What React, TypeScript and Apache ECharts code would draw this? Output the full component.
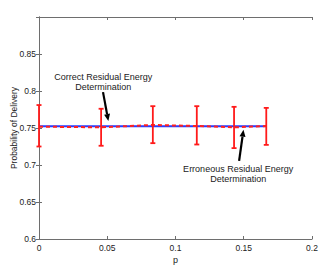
import React, { useEffect, useRef } from "react";
import * as echarts from "echarts";

const pValues = [0, 0.0455, 0.0834, 0.1156, 0.1429, 0.1665];
const meanErroneous = [0.7518, 0.7509, 0.7541, 0.7527, 0.7509, 0.7527];
const meanCorrect = [0.7523, 0.7523, 0.7523, 0.7523, 0.7523, 0.7523];
const errLow = [0.725, 0.726, 0.7295, 0.7277, 0.7228, 0.7272];
const errHigh = [0.781, 0.776, 0.7795, 0.7795, 0.7786, 0.7772];
const yTicks = [0.6, 0.65, 0.7, 0.75, 0.8, 0.85, 0.9];
const xTicks = [0, 0.05, 0.1, 0.15, 0.2];

const FONT = "'Liberation Sans', Arial, Helvetica, sans-serif";

export default function App() {
  const ref = useRef<HTMLDivElement>(null);
  useEffect(() => {
    document.body.style.margin = "0";
    const chart = echarts.init(ref.current!, null, { renderer: "svg" });
    const axisColor = "#6e6e6e";
    const common = {
      axisLine: { show: true, lineStyle: { color: axisColor, width: 1 } },
      axisTick: { show: true, inside: true, length: 3, lineStyle: { color: axisColor } },
      splitLine: { show: false },
    };
    chart.setOption({
      animation: false,
      grid: { left: 39, top: 17, right: 8, bottom: 26, containLabel: false, outerBoundsMode: "none" },
      xAxis: [
        {
          type: "value",
          min: 0,
          max: 0.2,
          interval: 0.05,
          position: "bottom",
          name: "p",
          nameLocation: "middle",
          nameGap: 16,
          nameMoveOverlap: false,
          nameTextStyle: { fontFamily: FONT, fontSize: 9, color: "#222" },
          axisLabel: {
            fontFamily: FONT,
            fontSize: 8.5,
            color: "#222",
            margin: 4,
            formatter: (v: number) => (xTicks.includes(Math.round(v * 100) / 100) ? String(Math.round(v * 100) / 100) : ""),
          },
          ...common,
        },
        {
          type: "value",
          min: 0,
          max: 0.2,
          interval: 0.05,
          position: "top",
          axisLabel: { show: false },
          ...common,
        },
      ],
      yAxis: [
        {
          type: "value",
          min: 0.6,
          max: 0.9,
          interval: 0.05,
          position: "left",
          name: "Probability of Delivery",
          nameLocation: "middle",
          nameGap: 21,
          nameMoveOverlap: false,
          nameTextStyle: { fontFamily: FONT, fontSize: 8.5, color: "#222" },
          axisLabel: {
            fontFamily: FONT,
            fontSize: 8.5,
            color: "#222",
            margin: 3,
            showMaxLabel: false,
            formatter: (v: number) => {
              const r = Math.round(v * 100) / 100;
              return yTicks.includes(r) ? String(r) : "";
            },
          },
          ...common,
        },
        {
          type: "value",
          min: 0.6,
          max: 0.9,
          interval: 0.05,
          position: "right",
          axisLabel: { show: false },
          ...common,
        },
      ],
      series: [
        {
          type: "line",
          data: pValues.map((p, i) => [p, meanCorrect[i]]),
          showSymbol: false,
          symbol: "none",
          lineStyle: { color: "#2a3cff", width: 2 },
          z: 2,
        },
        {
          type: "line",
          data: pValues.map((p, i) => [p, meanErroneous[i]]),
          showSymbol: false,
          symbol: "none",
          lineStyle: { color: "#ff2020", width: 2, type: [4, 3] },
          z: 3,
        },
        {
          type: "custom",
          z: 4,
          data: pValues.map((p, i) => [p, errLow[i], errHigh[i]]),
          renderItem: (params: any, api: any) => {
            const x = api.value(0);
            const lo = api.coord([x, api.value(1)]);
            const hi = api.coord([x, api.value(2)]);
            const cap = 2.5;
            const style = { stroke: "#ff1a1a", lineWidth: 1.8 };
            return {
              type: "group",
              children: [
                { type: "line", shape: { x1: lo[0], y1: lo[1], x2: hi[0], y2: hi[1] }, style },
                { type: "line", shape: { x1: lo[0] - cap, y1: lo[1], x2: lo[0] + cap, y2: lo[1] }, style },
                { type: "line", shape: { x1: hi[0] - cap, y1: hi[1], x2: hi[0] + cap, y2: hi[1] }, style },
              ],
            };
          },
        },
      ],
    });

    const toPx = (x: number, y: number) => chart.convertToPixel({ xAxisIndex: 0, yAxisIndex: 0 }, [x, y]) as number[];
    const arrow = (from: number[], to: number[]) => {
      const a = toPx(from[0], from[1]);
      const b = toPx(to[0], to[1]);
      const dx = b[0] - a[0];
      const dy = b[1] - a[1];
      const len = Math.sqrt(dx * dx + dy * dy);
      const ux = dx / len;
      const uy = dy / len;
      const hl = 7;
      const hw = 3;
      const base = [b[0] - ux * hl, b[1] - uy * hl];
      return [
        {
          type: "line",
          shape: { x1: a[0], y1: a[1], x2: base[0], y2: base[1] },
          style: { stroke: "#000", lineWidth: 2.2 },
        },
        {
          type: "polygon",
          shape: {
            points: [
              [b[0], b[1]],
              [base[0] - uy * hw, base[1] + ux * hw],
              [base[0] + uy * hw, base[1] - ux * hw],
            ],
          },
          style: { fill: "#000" },
        },
      ];
    };
    const t1 = toPx(0.047, 0.8125);
    const t2 = toPx(0.1459, 0.6885);
    chart.setOption({
      graphic: [
        {
          type: "text",
          x: t1[0],
          y: t1[1],
          style: {
            text: "Correct Residual Energy\nDetermination",
            fontFamily: FONT,
            fontSize: 9,
            lineHeight: 10,
            fill: "#222",
            align: "center",
            verticalAlign: "middle",
          },
        },
        ...arrow([0.0469, 0.7985], [0.0508, 0.7595]),
        {
          type: "text",
          x: t2[0],
          y: t2[1],
          style: {
            text: "Erroneous Residual Energy\nDetermination",
            fontFamily: FONT,
            fontSize: 9,
            lineHeight: 10,
            fill: "#222",
            align: "center",
            verticalAlign: "middle",
          },
        },
        ...arrow([0.1466, 0.7055], [0.1498, 0.7478]),
      ],
    });
    return () => chart.dispose();
  }, []);
  return <div ref={ref} style={{ width: 320, height: 265 }} />;
}
